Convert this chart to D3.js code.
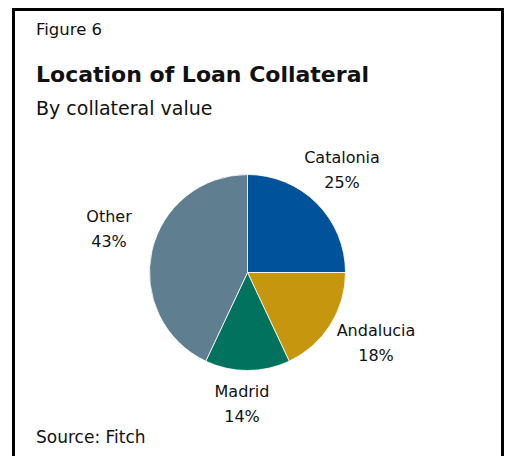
<!DOCTYPE html>
<html>
<head>
<meta charset="utf-8">
<script src="https://cdn.jsdelivr.net/npm/d3@7"></script>
<style>
  html, body { margin: 0; padding: 0; background: #fff; }
  svg { display: block; }
  text { font-family: "DejaVu Sans", Verdana, sans-serif; fill: #111; }
</style>
</head>
<body>
<svg id="chart" width="508" height="456"></svg>
<script>
const categories = ["Catalonia", "Andalucia", "Madrid", "Other"];
const values = [25, 18, 14, 43];
const colors = ["#00529b", "#c6960f", "#00725e", "#5f7f90"];
const labelPositions = [[342, 163], [376, 336], [242, 397], [109, 222]];

const svg = d3.select("#chart");

// frame
svg.append("path")
  .attr("d", "M13.5,470 L13.5,9.5 L502.5,9.5 L502.5,470")
  .attr("fill", "none").attr("stroke", "#000").attr("stroke-width", 3);

svg.append("text").attr("x", 36).attr("y", 35)
  .style("font-size", "16.5px").text("Figure 6");
svg.append("text").attr("x", 36).attr("y", 82)
  .style("font-size", "22px").style("font-weight", "bold").text("Location of Loan Collateral");
svg.append("text").attr("x", 36).attr("y", 115)
  .style("font-size", "19px").text("By collateral value");
svg.append("text").attr("x", 36).attr("y", 443)
  .style("font-size", "17px").text("Source: Fitch");

const cx = 247.5, cy = 272.5, r = 98;
const pie = d3.pie().sort(null).value(d => d)(values);
const arc = d3.arc().innerRadius(0).outerRadius(r);

const g = svg.append("g").attr("transform", `translate(${cx},${cy})`);
g.selectAll("path").data(pie).join("path")
  .attr("d", arc)
  .attr("fill", (d, i) => colors[i])
  .attr("stroke", "#fff").attr("stroke-width", 0.8);

const lab = svg.append("g");
categories.forEach((c, i) => {
  const [x, y] = labelPositions[i];
  lab.append("text").attr("x", x).attr("y", y).attr("text-anchor", "middle")
    .style("font-size", "16px").text(c);
  lab.append("text").attr("x", x).attr("y", y + 25).attr("text-anchor", "middle")
    .style("font-size", "16px").text(values[i] + "%");
});
</script>
</body>
</html>
